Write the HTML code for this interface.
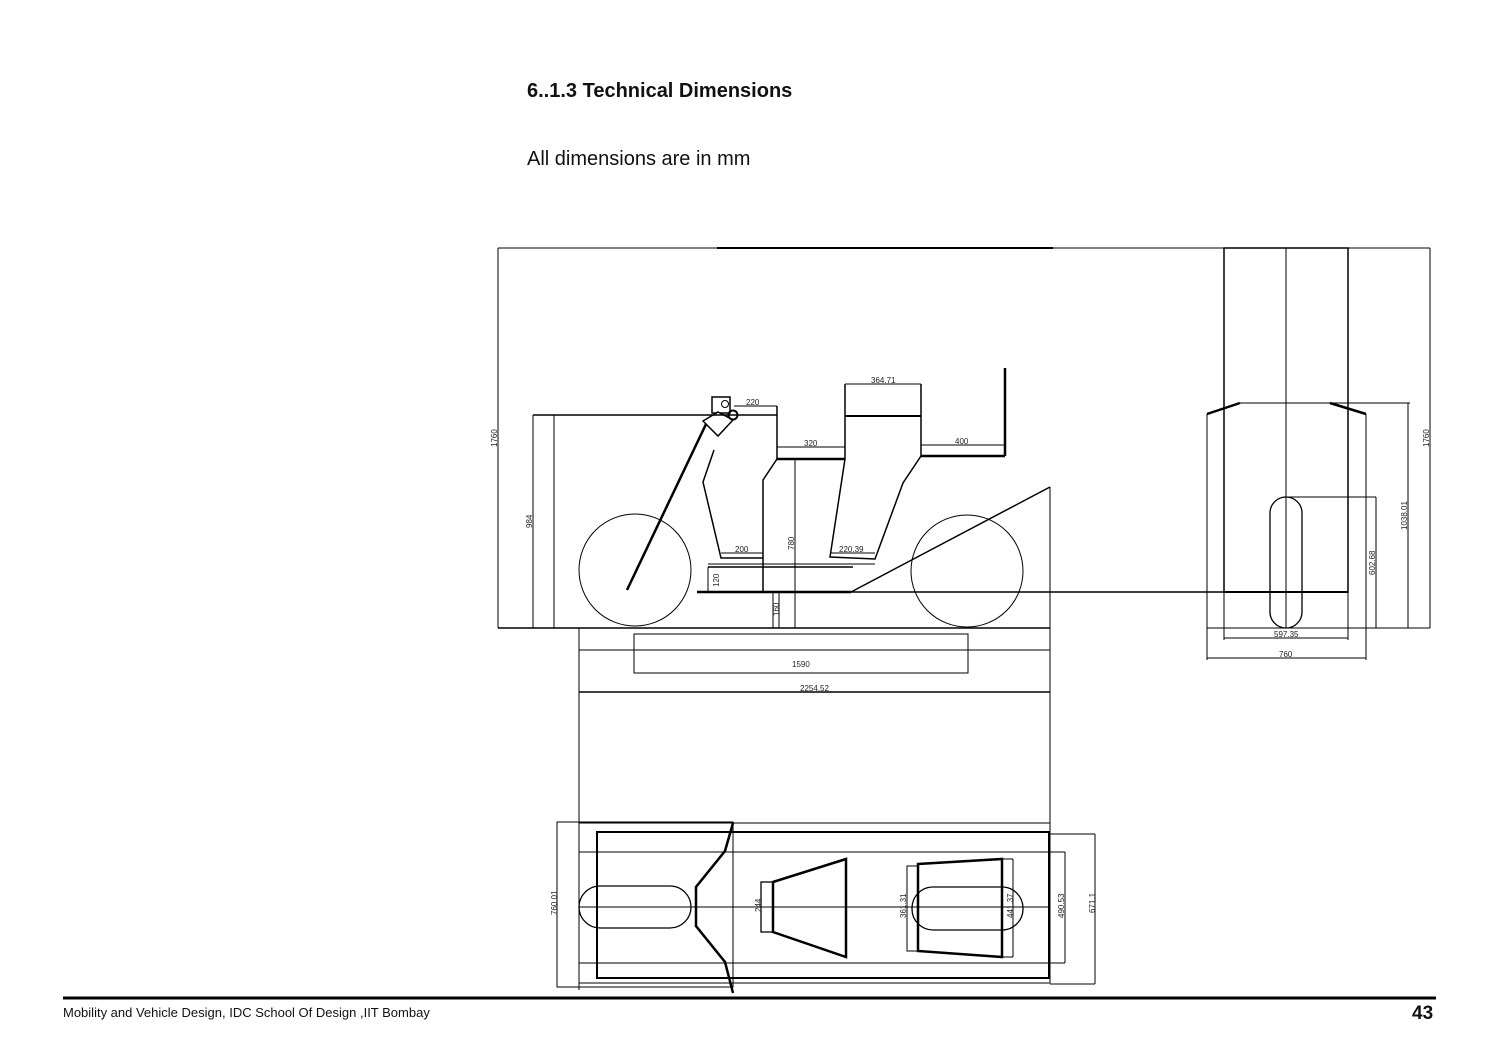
<!DOCTYPE html>
<html><head><meta charset="utf-8"><style>
html,body{margin:0;padding:0;background:#fff;}
body{width:1500px;height:1061px;position:relative;overflow:hidden;font-family:"Liberation Sans",sans-serif;}
.t{position:absolute;color:#111;white-space:nowrap;}
svg{position:absolute;left:0;top:0;}
svg text{font-family:"Liberation Sans",sans-serif;font-size:8px;fill:#222;}
</style></head><body>
<div class="t" style="left:527px;top:80px;font-size:20px;font-weight:bold;">6..1.3 Technical Dimensions</div>
<div class="t" style="left:527px;top:148px;font-size:20px;">All dimensions are in mm</div>
<svg width="1500" height="1061" viewBox="0 0 1500 1061" fill="none" stroke="#000" stroke-width="1">
<line x1="498" y1="248" x2="1430" y2="248"/>
<line x1="717" y1="248" x2="1053" y2="248" stroke-width="2"/>
<line x1="498" y1="248" x2="498" y2="628"/>
<line x1="1430" y1="248" x2="1430" y2="628"/>
<line x1="498" y1="628" x2="1050" y2="628" stroke-width="1.5"/>
<line x1="1207" y1="628" x2="1430" y2="628"/>
<circle cx="635" cy="570" r="56"/>
<circle cx="967" cy="571" r="56"/>
<line x1="627" y1="590" x2="707" y2="422" stroke-width="2.5"/>
<rect x="712" y="397" width="18" height="16" stroke-width="1.5"/>
<polygon points="703,421 718,436 733,420 718,412" fill="#fff" stroke-width="1.5"/>
<circle cx="725" cy="404" r="3.5"/>
<circle cx="733" cy="415" r="4.5" stroke-width="2"/>
<line x1="533" y1="415" x2="777" y2="415" stroke-width="1.5"/>
<line x1="533" y1="415" x2="533" y2="628"/>
<line x1="554" y1="415" x2="554" y2="628"/>
<line x1="734" y1="406" x2="777" y2="406"/>
<line x1="777" y1="406" x2="777" y2="459" stroke-width="1.5"/>
<line x1="777" y1="447" x2="845" y2="447"/>
<line x1="777" y1="459" x2="845" y2="459" stroke-width="2.5"/>
<line x1="845" y1="384" x2="921" y2="384"/>
<line x1="845" y1="416" x2="921" y2="416" stroke-width="2"/>
<line x1="845" y1="384" x2="845" y2="459" stroke-width="1.5"/>
<line x1="921" y1="384" x2="921" y2="456" stroke-width="1.5"/>
<line x1="921" y1="445" x2="1005" y2="445"/>
<line x1="921" y1="456" x2="1005" y2="456" stroke-width="2.5"/>
<line x1="1005" y1="368" x2="1005" y2="456" stroke-width="2.5"/>
<polyline points="777,459 763,480 763,592" stroke-width="1.5"/>
<polyline points="714,450 703,482 721,558 763,558" stroke-width="1.5"/>
<line x1="721" y1="553" x2="763" y2="553"/>
<polyline points="845,459 830,557 875,559 903,483 921,456" stroke-width="1.5"/>
<line x1="830" y1="553" x2="875" y2="553"/>
<line x1="708" y1="564" x2="875" y2="564"/>
<line x1="708" y1="567" x2="853" y2="567" stroke-width="1.5"/>
<line x1="708" y1="567" x2="708" y2="592"/>
<line x1="697" y1="592" x2="851" y2="592" stroke-width="2.5"/>
<line x1="851" y1="592" x2="1224" y2="592" stroke-width="1.5"/>
<line x1="851" y1="592" x2="1050" y2="487" stroke-width="1.5"/>
<line x1="1050" y1="487" x2="1050" y2="830"/>
<line x1="795" y1="459" x2="795" y2="628"/>
<line x1="779" y1="592" x2="779" y2="628"/>
<line x1="773" y1="592" x2="773" y2="628"/>
<line x1="579" y1="628" x2="579" y2="990"/>
<rect x="634" y="634" width="334" height="39"/>
<line x1="579" y1="650" x2="1050" y2="650"/>
<line x1="579" y1="692" x2="1050" y2="692" stroke-width="1.5"/>
<rect x="1224" y="248" width="124" height="344" stroke-width="1.5"/>
<line x1="1224" y1="592" x2="1348" y2="592" stroke-width="2"/>
<line x1="1286" y1="248" x2="1286" y2="628"/>
<polyline points="1207,414 1240,403 1330,403 1366,414" stroke-width="1"/>
<line x1="1207" y1="414" x2="1240" y2="403" stroke-width="2.5"/>
<line x1="1330" y1="403" x2="1366" y2="414" stroke-width="2.5"/>
<line x1="1207" y1="414" x2="1207" y2="660"/>
<line x1="1366" y1="414" x2="1366" y2="660"/>
<line x1="1330" y1="403" x2="1410" y2="403"/>
<line x1="1408" y1="403" x2="1408" y2="628"/>
<rect x="1270" y="497" width="32" height="131" rx="16" stroke-width="1.3"/>
<line x1="1286" y1="497" x2="1376" y2="497"/>
<line x1="1376" y1="497" x2="1376" y2="628"/>
<line x1="1224" y1="592" x2="1224" y2="640"/>
<line x1="1348" y1="592" x2="1348" y2="640"/>
<line x1="1224" y1="638" x2="1348" y2="638"/>
<line x1="1207" y1="658" x2="1366" y2="658"/>
<rect x="557" y="822" width="176" height="165"/>
<rect x="579" y="823" width="471" height="160"/>
<rect x="597" y="832" width="452" height="146" stroke-width="2"/>
<line x1="579" y1="852" x2="1065" y2="852"/>
<line x1="579" y1="963" x2="1065" y2="963"/>
<line x1="1065" y1="852" x2="1065" y2="963"/>
<line x1="1050" y1="834" x2="1095" y2="834"/>
<line x1="1050" y1="984" x2="1095" y2="984"/>
<line x1="1095" y1="834" x2="1095" y2="984"/>
<polyline points="733,823 725,851 696,887 696,926 725,962 733,993" stroke-width="2.5"/>
<rect x="579" y="886" width="112" height="42" rx="21" stroke-width="1.3"/>
<line x1="579" y1="907" x2="1050" y2="907"/>
<rect x="761" y="882" width="12" height="50" stroke-width="1.3"/>
<polygon points="773,882 846,859 846,957 773,932" stroke-width="2.5"/>
<rect x="907" y="866" width="11" height="85"/>
<polygon points="918,864 1002,859 1002,957 918,951" stroke-width="2.5"/>
<line x1="1002" y1="859" x2="1013" y2="859"/>
<line x1="1002" y1="957" x2="1013" y2="957"/>
<line x1="1013" y1="859" x2="1013" y2="957"/>
<rect x="912" y="887" width="111" height="43" rx="21" stroke-width="1.3"/>
<line x1="63" y1="998" x2="1436" y2="998" stroke-width="3"/>
<g stroke="none">
<text x="746" y="405">220</text>
<text x="804" y="446">320</text>
<text x="871" y="383">364.71</text>
<text x="955" y="444">400</text>
<text x="735" y="552">200</text>
<text x="839" y="552">220.39</text>
<text x="792" y="667">1590</text>
<text x="800" y="691">2254.52</text>
<text x="1274" y="637">597.35</text>
<text x="1279" y="657">760</text>
<text transform="translate(497,447) rotate(-90)">1760</text>
<text transform="translate(532,528) rotate(-90)">984</text>
<text transform="translate(794,550) rotate(-90)">780</text>
<text transform="translate(719,587) rotate(-90)">120</text>
<text transform="translate(779,616) rotate(-90)">160</text>
<text transform="translate(1429,447) rotate(-90)">1760</text>
<text transform="translate(1407,530) rotate(-90)">1038.01</text>
<text transform="translate(1375,575) rotate(-90)">602.68</text>
<text transform="translate(557,915) rotate(-90)">760.01</text>
<text transform="translate(761,912) rotate(-90)">244</text>
<text transform="translate(906,918) rotate(-90)">361.31</text>
<text transform="translate(1013,918) rotate(-90)">441.37</text>
<text transform="translate(1064,918) rotate(-90)">490.53</text>
<text transform="translate(1095,913) rotate(-90)">671.1</text>
</g>
</svg>
<div class="t" style="left:63px;top:1005px;font-size:13px;">Mobility and Vehicle Design, IDC School Of Design ,IIT Bombay</div>
<div class="t" style="left:1412px;top:1003px;font-size:19px;font-weight:bold;">43</div>
</body></html>
